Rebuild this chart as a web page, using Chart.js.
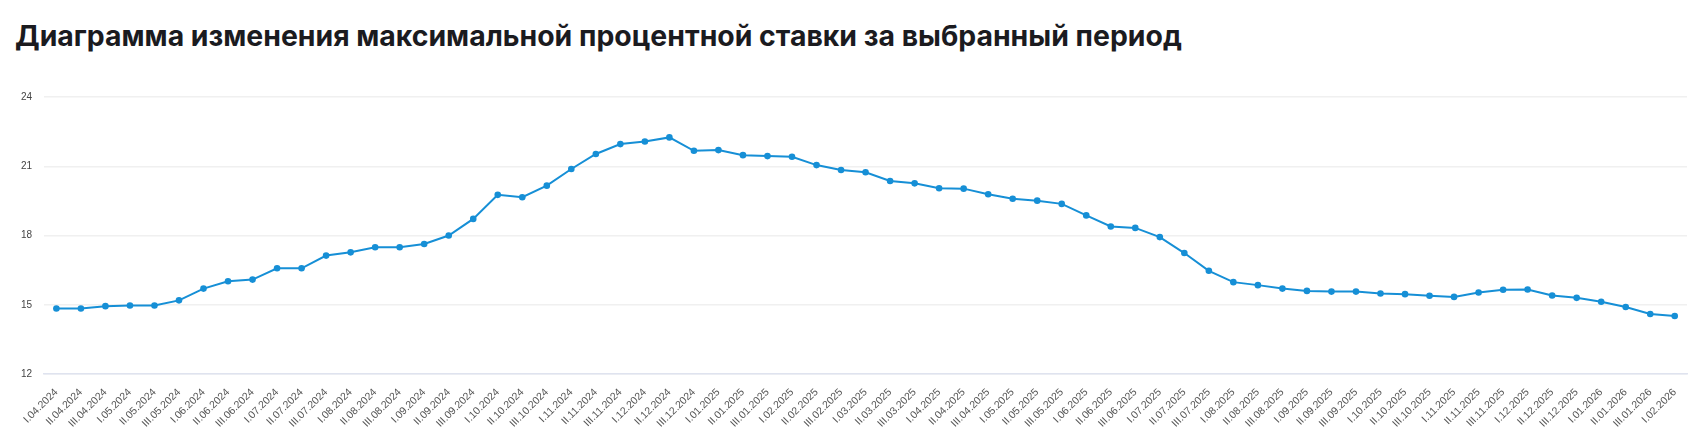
<!DOCTYPE html>
<html lang="ru">
<head>
<meta charset="utf-8">
<title>Диаграмма изменения максимальной процентной ставки</title>
<script src="https://cdn.jsdelivr.net/npm/chart.js@4/dist/chart.umd.min.js"></script>
<style>
  html, body { margin: 0; padding: 0; background: #fff; }
  body { width: 1691px; height: 441px; position: relative; overflow: hidden; }
  h1 {
    position: absolute; left: 15px; top: 21px; margin: 0;
    font: 700 28.4px/30px Inter, "Noto Sans", sans-serif;
    color: #1b1b1f; white-space: nowrap;
  }
  #wrap { position: absolute; left: 0; top: 60px; width: 1691px; height: 381px; }
</style>
</head>
<body>
<h1>Диаграмма изменения максимальной процентной ставки за выбранный период</h1>
<div id="wrap"><canvas id="rateChart"></canvas></div>
<script>
// Подписи периодов (декады месяцев)
const periods = [
  'I.04.2024', 'II.04.2024', 'III.04.2024',
  'I.05.2024', 'II.05.2024', 'III.05.2024',
  'I.06.2024', 'II.06.2024', 'III.06.2024',
  'I.07.2024', 'II.07.2024', 'III.07.2024',
  'I.08.2024', 'II.08.2024', 'III.08.2024',
  'I.09.2024', 'II.09.2024', 'III.09.2024',
  'I.10.2024', 'II.10.2024', 'III.10.2024',
  'I.11.2024', 'II.11.2024', 'III.11.2024',
  'I.12.2024', 'II.12.2024', 'III.12.2024',
  'I.01.2025', 'II.01.2025', 'III.01.2025',
  'I.02.2025', 'II.02.2025', 'III.02.2025',
  'I.03.2025', 'II.03.2025', 'III.03.2025',
  'I.04.2025', 'II.04.2025', 'III.04.2025',
  'I.05.2025', 'II.05.2025', 'III.05.2025',
  'I.06.2025', 'II.06.2025', 'III.06.2025',
  'I.07.2025', 'II.07.2025', 'III.07.2025',
  'I.08.2025', 'II.08.2025', 'III.08.2025',
  'I.09.2025', 'II.09.2025', 'III.09.2025',
  'I.10.2025', 'II.10.2025', 'III.10.2025',
  'I.11.2025', 'II.11.2025', 'III.11.2025',
  'I.12.2025', 'II.12.2025', 'III.12.2025',
  'I.01.2026', 'II.01.2026', 'III.01.2026',
  'I.02.2026'
];

// Максимальная процентная ставка, %
const maxRate = [
  14.84, 14.84, 14.94, 14.97, 14.97, 15.19, 15.70, 16.02, 16.09,
  16.58, 16.58, 17.13, 17.27, 17.49, 17.49, 17.63, 18.00, 18.72,
  19.76, 19.66, 20.16, 20.88, 21.53, 21.96, 22.07, 22.25, 21.67,
  21.70, 21.48, 21.44, 21.41, 21.05, 20.84, 20.74, 20.36, 20.26,
  20.05, 20.03, 19.79, 19.59, 19.51, 19.37, 18.87, 18.39, 18.33,
  17.93, 17.24, 16.47, 15.98, 15.85, 15.70, 15.60, 15.57, 15.57,
  15.49, 15.46, 15.39, 15.34, 15.53, 15.65, 15.66, 15.40, 15.30,
  15.13, 14.90, 14.60, 14.51
];

// Деления оси Y
const yTicks = [12, 15, 18, 21, 24];

const lineColor = '#168fd6';

document.addEventListener('DOMContentLoaded', () => {
  const canvas = document.getElementById('rateChart');

  new Chart(canvas.getContext('2d'), {
    type: 'line',
    data: {
      labels: periods,
      datasets: [{
        label: 'Максимальная ставка',
        data: maxRate,
        borderColor: lineColor,
        backgroundColor: lineColor,
        borderWidth: 2,
        pointRadius: 3.3,
        pointBorderWidth: 0,
        pointBackgroundColor: lineColor,
        tension: 0
      }]
    },
    options: {
      responsive: true,
      maintainAspectRatio: false,
      animation: false,
      layout: { padding: { top: 37, left: 9, right: 4, bottom: 7 } },
      plugins: {
        legend: { display: false },
        tooltip: { enabled: false }
      },
      scales: {
        x: {
          offset: true,
          grid: { display: false },
          border: { display: true, color: '#dfe3ef', width: 1.5 },
          ticks: {
            autoSkip: false,
            minRotation: 45,
            maxRotation: 45,
            padding: 4,
            color: '#555',
            font: { family: 'Liberation Sans', size: 10.5 }
          }
        },
        y: {
          min: yTicks[0],
          max: yTicks[yTicks.length - 1],
          afterBuildTicks: (axis) => {
            axis.ticks = yTicks.map(v => ({ value: v }));
          },
          grid: {
            color: '#f0f0f0',
            lineWidth: 1.5,
            drawTicks: false
          },
          border: { display: false },
          ticks: {
            padding: 12,
            color: '#444',
            font: { family: 'Liberation Sans', size: 10 }
          }
        }
      }
    }
  });
});
</script>
</body>
</html>
